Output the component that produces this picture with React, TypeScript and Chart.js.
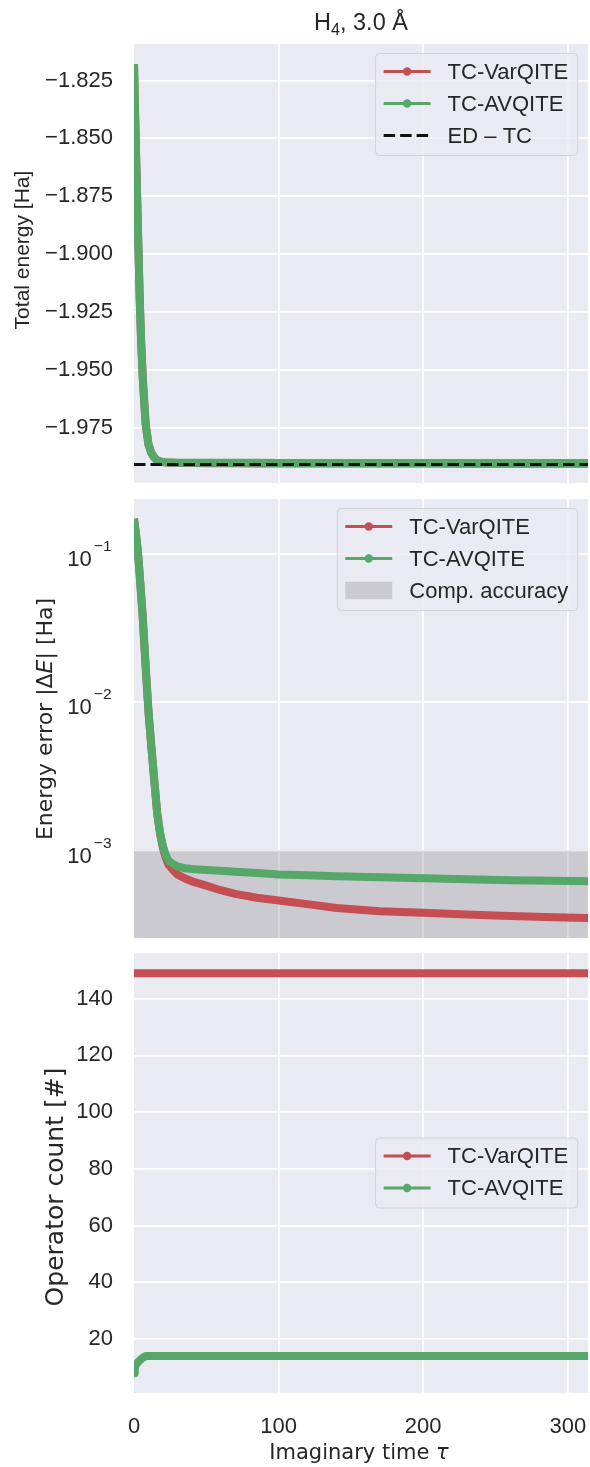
import React, { useEffect, useRef } from 'react';
import { Chart, registerables } from 'chart.js';

Chart.register(...registerables);

// ---------- data ----------
const TAU_MAX = 314;
const X_TICKS = [0, 100, 200, 300];

// exact-diagonalisation reference (TC Hamiltonian)
const ED_TC = -1.991;

// imaginary-time grid for the energy traces
const TAU = [0, 1, 2, 3, 4, 5, 6, 8, 10, 12, 14, 16, 18, 20, 22, 24, 27, 30, 35, 40, 50, 60, 70, 85, 100, 120, 140, 170, 200, 230, 260, 290, 314];

// |E - E_ED| in Ha
const ERR_VARQITE = [0.173, 0.145, 0.12, 0.095, 0.071, 0.052, 0.038, 0.0178, 0.0087, 0.005, 0.003, 0.0018, 0.0013, 0.00104, 0.00089, 0.0008, 0.00074, 0.00069, 0.00065, 0.00062, 0.00058, 0.00054, 0.00051, 0.00048, 0.00046, 0.000435, 0.00041, 0.00039, 0.00038, 0.00037, 0.000362, 0.000355, 0.00035];
const ERR_AVQITE = [0.173, 0.145, 0.12, 0.095, 0.071, 0.052, 0.038, 0.0178, 0.0087, 0.005, 0.003, 0.0018, 0.00132, 0.00107, 0.00093, 0.00085, 0.00081, 0.00078, 0.00076, 0.00075, 0.00074, 0.00073, 0.00072, 0.000705, 0.00069, 0.00068, 0.00067, 0.00066, 0.00065, 0.00064, 0.00063, 0.000625, 0.00062];

const COMP_ACCURACY = 1e-3;

// operator counts
const TAU_OPS_VARQITE = [0, 314];
const OPS_VARQITE = [149, 149];
const TAU_OPS_AVQITE = [0, 0.5, 1.5, 3, 5, 8, 314];
const OPS_AVQITE = [8, 10, 11, 12, 13, 14, 14];

// axis ticks
const E_TICKS = [-1.975, -1.95, -1.925, -1.9, -1.875, -1.85, -1.825];
const ERR_TICKS = [1e-3, 1e-2, 1e-1];
const OPS_TICKS = [20, 40, 60, 80, 100, 120, 140];

// ---------- style ----------
const W = 590;
const H = 1467;
const PLOT_LEFT = 134;
const PLOT_RIGHT = 588;
const RED = '#C44E52';
const GREEN = '#55A868';
const BG = '#EAEAF2';
const INK = '#262626';
const SANS = '"Liberation Sans", Arial, Helvetica, sans-serif';
const MATH = '"DejaVu Sans", sans-serif';
const FS = 22;
const TICK_FONT = { family: SANS, size: FS };
const LEG_FONT = `22px ${SANS}`;

type Seg = { t: string; font: string; dy?: number };
type LegendEntry = { label: string; color: string; kind: 'line' | 'dash' | 'patch' };

type PanelSpec = {
  top: number;
  bottom: number;
  xh: number;
  showX: boolean;
  yType: 'linear' | 'logarithmic';
  yMin: number;
  yMax: number;
  yTicks: number[];
  yFmt: (v: number) => string;
  datasets: any[];
  yLabel: Seg[];
  yLabelBaseline: number;
  yLabelCenter: number;
  legend: { entries: LegendEntry[]; valign: 'top' | 'center' };
  band?: boolean;
  title?: boolean;
  xLabel?: boolean;
  logLabels?: boolean;
};

function segsWidth(ctx: CanvasRenderingContext2D, segs: Seg[]) {
  return segs.reduce((w, s) => {
    ctx.font = s.font;
    return w + ctx.measureText(s.t).width;
  }, 0);
}

function drawSegs(ctx: CanvasRenderingContext2D, segs: Seg[], cx: number, baseline: number) {
  let x = cx - segsWidth(ctx, segs) / 2;
  ctx.textAlign = 'left';
  ctx.textBaseline = 'alphabetic';
  ctx.fillStyle = INK;
  for (const s of segs) {
    ctx.font = s.font;
    ctx.fillText(s.t, x, baseline + (s.dy || 0));
    x += ctx.measureText(s.t).width;
  }
}

function roundRect(ctx: CanvasRenderingContext2D, x: number, y: number, w: number, h: number, r: number) {
  ctx.beginPath();
  ctx.moveTo(x + r, y);
  ctx.lineTo(x + w - r, y);
  ctx.arcTo(x + w, y, x + w, y + r, r);
  ctx.lineTo(x + w, y + h - r);
  ctx.arcTo(x + w, y + h, x + w - r, y + h, r);
  ctx.lineTo(x + r, y + h);
  ctx.arcTo(x, y + h, x, y + h - r, r);
  ctx.lineTo(x, y + r);
  ctx.arcTo(x, y, x + r, y, r);
  ctx.closePath();
}

function drawLegend(ctx: CanvasRenderingContext2D, area: any, legend: PanelSpec['legend']) {
  ctx.save();
  ctx.font = LEG_FONT;
  const tw = Math.max(...legend.entries.map((e) => ctx.measureText(e.label).width));
  const w = 72 + tw + 9.5;
  const h = 18 + (legend.entries.length - 1) * 32 + 20;
  const right = area.right - 10.3;
  const left = right - w;
  const top = legend.valign === 'top' ? area.top + 9.5 : (area.top + area.bottom) / 2 - h / 2;

  roundRect(ctx, left, top, w, h, 4);
  ctx.fillStyle = 'rgba(234,234,242,0.8)';
  ctx.fill();
  ctx.strokeStyle = '#d2d2d8';
  ctx.lineWidth = 1;
  ctx.stroke();

  legend.entries.forEach((e, i) => {
    const cy = top + 18 + i * 32;
    const x0 = left + 8;
    const x1 = left + 55;
    if (e.kind === 'patch') {
      ctx.fillStyle = 'rgba(128,128,128,0.3)';
      ctx.fillRect(x0, cy - 8.7, x1 - x0, 17.4);
    } else {
      ctx.beginPath();
      ctx.moveTo(x0, cy);
      ctx.lineTo(x1, cy);
      ctx.strokeStyle = e.color;
      ctx.lineWidth = 3;
      ctx.setLineDash(e.kind === 'dash' ? [11.5, 5] : []);
      ctx.stroke();
      ctx.setLineDash([]);
      if (e.kind === 'line') {
        ctx.beginPath();
        ctx.arc((x0 + x1) / 2, cy, 4.2, 0, Math.PI * 2);
        ctx.fillStyle = e.color;
        ctx.fill();
      }
    }
    ctx.font = LEG_FONT;
    ctx.fillStyle = INK;
    ctx.textAlign = 'left';
    ctx.textBaseline = 'middle';
    ctx.fillText(e.label, left + 72, cy + 1);
  });
  ctx.restore();
}

function makeDecor(spec: PanelSpec) {
  return {
    id: 'panelDecor',
    beforeDraw(chart: any) {
      const { ctx, chartArea: a } = chart;
      ctx.save();
      ctx.fillStyle = BG;
      ctx.fillRect(a.left, a.top, a.right - a.left, a.bottom - a.top);
      ctx.restore();
    },
    beforeDatasetsDraw(chart: any) {
      if (!spec.band) return;
      const { ctx, chartArea: a, scales } = chart;
      const yTop = scales.y.getPixelForValue(COMP_ACCURACY);
      ctx.save();
      ctx.fillStyle = 'rgba(128,128,128,0.3)';
      ctx.fillRect(a.left, yTop, a.right - a.left, a.bottom - yTop);
      ctx.restore();
    },
    afterDraw(chart: any) {
      const { ctx, chartArea: a, scales } = chart;
      ctx.save();
      // rotated y-axis title
      ctx.save();
      ctx.translate(spec.yLabelBaseline, spec.yLabelCenter);
      ctx.rotate(-Math.PI / 2);
      drawSegs(ctx, spec.yLabel, 0, 0);
      ctx.restore();

      if (spec.logLabels) {
        for (const v of spec.yTicks) {
          const y = scales.y.getPixelForValue(v);
          const e = Math.round(Math.log10(v));
          const sup = (e < 0 ? '\u2212' : '') + Math.abs(e);
          ctx.fillStyle = INK;
          ctx.textBaseline = 'alphabetic';
          ctx.textAlign = 'right';
          ctx.font = `15.5px ${SANS}`;
          const sw = ctx.measureText(sup).width;
          ctx.fillText(sup, 111.5, y - 3);
          ctx.font = `${FS}px ${SANS}`;
          ctx.fillText('10', 111.5 - sw - 2, y + 12);
        }
      }

      if (spec.title) {
        drawSegs(
          ctx,
          [
            { t: 'H', font: `23.5px ${SANS}` },
            { t: '4', font: `16px ${SANS}`, dy: 5 },
            { t: ', 3.0 Å', font: `23.5px ${SANS}` },
          ],
          (a.left + a.right) / 2,
          30
        );
      }

      if (spec.xLabel) {
        drawSegs(
          ctx,
          [
            { t: 'Imaginary time ', font: `21px ${MATH}` },
            { t: 'τ', font: `italic 21px ${MATH}` },
          ],
          359,
          1458.5
        );
      }

      drawLegend(ctx, a, spec.legend);
      ctx.restore();
    },
  };
}

function lineSet(xs: number[], ys: number[], color: string, order: number, extra: any = {}) {
  return {
    data: xs.map((x, i) => ({ x, y: ys[i] })),
    borderColor: color,
    backgroundColor: color,
    borderWidth: 8,
    pointRadius: 0,
    fill: false,
    tension: 0,
    clip: 0,
    order,
    borderJoinStyle: 'round',
    borderCapStyle: 'butt',
    ...extra,
  };
}

function makeChart(canvas: HTMLCanvasElement, spec: PanelSpec) {
  return new Chart(canvas as any, {
    type: 'line',
    data: { datasets: spec.datasets },
    options: {
      animation: false,
      responsive: false,
      maintainAspectRatio: false,
      devicePixelRatio: 1,
      events: [],
      layout: {
        padding: { left: 0, right: W - PLOT_RIGHT, top: spec.top, bottom: H - spec.bottom - spec.xh },
      },
      plugins: { legend: { display: false }, tooltip: { enabled: false }, title: { display: false } },
      scales: {
        x: {
          type: 'linear',
          min: 0,
          max: TAU_MAX,
          afterBuildTicks: (s: any) => {
            s.ticks = X_TICKS.map((value) => ({ value }));
          },
          afterFit: (s: any) => {
            s.height = spec.xh;
            s.paddingLeft = 0;
            s.paddingRight = 0;
          },
          grid: {
            color: (c: any) => (c.tick && c.tick.value === 0 ? 'rgba(0,0,0,0)' : '#ffffff'),
            lineWidth: 1.8,
            drawTicks: false,
          },
          border: { display: false },
          ticks: {
            display: spec.showX,
            padding: 20.5,
            color: INK,
            font: TICK_FONT,
            maxRotation: 0,
            autoSkip: false,
            callback: (v: any) => String(v),
          },
        },
        y: {
          type: spec.yType,
          min: spec.yMin,
          max: spec.yMax,
          afterBuildTicks: (s: any) => {
            s.ticks = spec.yTicks.map((value) => ({ value }));
          },
          afterFit: (s: any) => {
            s.width = PLOT_LEFT;
            s.paddingTop = 0;
            s.paddingBottom = 0;
          },
          grid: { color: '#ffffff', lineWidth: 1.8, drawTicks: false },
          border: { display: false },
          ticks: {
            padding: 21,
            color: INK,
            font: TICK_FONT,
            autoSkip: false,
            callback: (v: any) => spec.yFmt(Number(v)),
          },
        },
      },
    } as any,
    plugins: [makeDecor(spec)],
  });
}

const fmtEnergy = (v: number) => (v < 0 ? '\u2212' : '') + Math.abs(v).toFixed(3);

const PANEL_ENERGY: PanelSpec = {
  top: 44,
  bottom: 483,
  xh: 0,
  showX: false,
  yType: 'linear',
  yMin: -1.999,
  yMax: -1.8092,
  yTicks: E_TICKS,
  yFmt: fmtEnergy,
  datasets: [
    lineSet([0, TAU_MAX], [ED_TC, ED_TC], '#111111', 0, { borderWidth: 3, borderDash: [11.5, 5] }),
    lineSet(TAU, ERR_AVQITE.map((d) => ED_TC + d), GREEN, 1),
    lineSet(TAU, ERR_VARQITE.map((d) => ED_TC + d), RED, 2),
  ],
  yLabel: [{ t: 'Total energy [Ha]', font: `21px ${SANS}` }],
  yLabelBaseline: 29,
  yLabelCenter: 250,
  legend: {
    valign: 'top',
    entries: [
      { label: 'TC-VarQITE', color: RED, kind: 'line' },
      { label: 'TC-AVQITE', color: GREEN, kind: 'line' },
      { label: 'ED \u2013 TC', color: '#111111', kind: 'dash' },
    ],
  },
  title: true,
};

const PANEL_ERROR: PanelSpec = {
  top: 499,
  bottom: 938,
  xh: 0,
  showX: false,
  yType: 'logarithmic',
  yMin: 2.57e-4,
  yMax: 0.235,
  yTicks: ERR_TICKS,
  yFmt: () => '',
  datasets: [lineSet(TAU, ERR_AVQITE, GREEN, 1), lineSet(TAU, ERR_VARQITE, RED, 2)],
  yLabel: [
    { t: 'Energy error |Δ', font: `22px ${MATH}` },
    { t: 'E', font: `italic 22px ${MATH}` },
    { t: '| [Ha]', font: `22px ${MATH}` },
  ],
  yLabelBaseline: 52,
  yLabelCenter: 719,
  legend: {
    valign: 'top',
    entries: [
      { label: 'TC-VarQITE', color: RED, kind: 'line' },
      { label: 'TC-AVQITE', color: GREEN, kind: 'line' },
      { label: 'Comp. accuracy', color: '#808080', kind: 'patch' },
    ],
  },
  band: true,
  logLabels: true,
};

const PANEL_OPS: PanelSpec = {
  top: 953,
  bottom: 1393,
  xh: 74,
  showX: true,
  yType: 'linear',
  yMin: 1,
  yMax: 156.1,
  yTicks: OPS_TICKS,
  yFmt: (v) => String(v),
  datasets: [lineSet(TAU_OPS_AVQITE, OPS_AVQITE, GREEN, 1), lineSet(TAU_OPS_VARQITE, OPS_VARQITE, RED, 2)],
  yLabel: [{ t: 'Operator count [#]', font: `25px ${MATH}` }],
  yLabelBaseline: 63,
  yLabelCenter: 1187,
  legend: {
    valign: 'center',
    entries: [
      { label: 'TC-VarQITE', color: RED, kind: 'line' },
      { label: 'TC-AVQITE', color: GREEN, kind: 'line' },
    ],
  },
  xLabel: true,
};

export default function App() {
  const r1 = useRef<HTMLCanvasElement>(null);
  const r2 = useRef<HTMLCanvasElement>(null);
  const r3 = useRef<HTMLCanvasElement>(null);

  useEffect(() => {
    const charts = [
      makeChart(r1.current!, PANEL_ENERGY),
      makeChart(r2.current!, PANEL_ERROR),
      makeChart(r3.current!, PANEL_OPS),
    ];
    return () => charts.forEach((c) => c.destroy());
  }, []);

  const cs: React.CSSProperties = { position: 'absolute', left: 0, top: 0, width: W, height: H };
  return (
    <div style={{ position: 'absolute', left: 0, top: 0, width: W, height: H, background: '#ffffff', overflow: 'hidden' }}>
      <canvas ref={r1} width={W} height={H} style={cs} />
      <canvas ref={r2} width={W} height={H} style={cs} />
      <canvas ref={r3} width={W} height={H} style={cs} />
    </div>
  );
}
